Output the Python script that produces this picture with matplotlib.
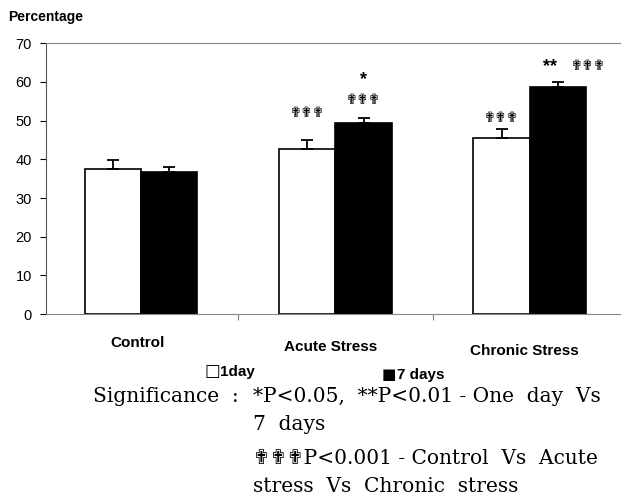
import numpy as np
import matplotlib.pyplot as plt

# data
groups = ["Control", "Acute Stress", "Chronic Stress"]
day1 = [37.5, 42.6, 45.6]
day1_err = [2.3, 2.4, 2.2]
day7 = [36.7, 49.3, 58.7]
day7_err = [1.4, 1.4, 1.4]

plt.rcParams['font.family'] = ['Liberation Sans', 'DejaVu Sans']

fig = plt.figure(figsize=(6.21, 4.97), dpi=100)
ax = fig.add_axes([0.074, 0.368, 0.926, 0.545])

x = np.arange(len(groups))
w = 0.29
ax.bar(x - w / 2, day1, w, color='white', edgecolor='black', linewidth=1.2)
ax.bar(x + w / 2, day7, w, color='black', edgecolor='black', linewidth=1.2)
ax.errorbar(x - w / 2, day1, yerr=[np.zeros(3), day1_err], fmt='none',
            ecolor='black', elinewidth=1.3, capsize=4, capthick=1.3)
ax.errorbar(x + w / 2, day7, yerr=[np.zeros(3), day7_err], fmt='none',
            ecolor='black', elinewidth=1.3, capsize=4, capthick=1.3)

ax.set_xlim(-0.49, 2.47)
ax.set_ylim(0, 70)
ax.set_yticks(range(0, 71, 10))
ax.tick_params(axis='y', labelsize=10.5, length=4, width=0.8, pad=6)
ax.set_xticks([0.5, 1.5])
ax.tick_params(axis='x', labelbottom=False, length=4, direction='out', color='gray')
for s in ['top', 'bottom']:
    ax.spines[s].set_color('#888888')
ax.spines['left'].set_color('#555555')
ax.spines['right'].set_visible(False)

# significance marks
dag = '\u271f\u271f\u271f'
sym = dict(ha='center', va='center', fontsize=10, family=['DejaVu Sans'])
ax.text(1 - w / 2, 52, dag, **sym)
ax.text(1 + w / 2, 55.3, dag, **sym)
ax.text(1 + w / 2, 60.7, '*', ha='center', va='center', fontsize=13, fontweight='bold')
ax.text(2 - w / 2, 50.6, dag, **sym)
ax.text(2 + w / 2 - 0.04, 64.0, '**', ha='center', va='center', fontsize=13, fontweight='bold')
ax.text(2.30, 64.0, dag, **sym)

fig.text(0.013, 0.965, 'Percentage', fontsize=10, fontweight='bold', va='center')

# category labels (scan is slightly tilted)
label_y = [343, 347, 351]
label_x = [138, 331, 524]
for g, lx, ly in zip(groups, label_x, label_y):
    fig.text(lx / 621, 1 - ly / 497, g, ha='center', va='center',
             fontsize=11, fontweight='bold')

# legend
fig.text(205 / 621, 1 - 376 / 497, '\u25a1', fontsize=12, va='baseline',
         family=['DejaVu Sans'])
fig.text(220 / 621, 1 - 376 / 497, '1day', fontsize=11, fontweight='bold', va='baseline')
fig.text(382 / 621, 1 - 379 / 497, '\u25a0', fontsize=11, va='baseline',
         family=['DejaVu Sans'])
fig.text(397 / 621, 1 - 379 / 497, '7 days', fontsize=11, fontweight='bold', va='baseline')

# footnote
serif = ['DejaVu Serif', 'DejaVu Sans']
fs = 14.5
fig.text(93 / 621, 1 - 397 / 497, 'Significance  :', fontsize=fs, va='center', family=serif)
fig.text(253 / 621, 1 - 397 / 497, '*P<0.05,  **P<0.01 - One  day  Vs',
         fontsize=fs, va='center', family=serif)
fig.text(253 / 621, 1 - 425 / 497, '7  days', fontsize=fs, va='center', family=serif)
fig.text(253 / 621, 1 - 458 / 497, dag + 'P<0.001 - Control  Vs  Acute',
         fontsize=fs, va='center', family=serif)
fig.text(253 / 621, 1 - 487 / 497, 'stress  Vs  Chronic  stress',
         fontsize=fs, va='center', family=serif)

fig.savefig('out.png', dpi=100)
